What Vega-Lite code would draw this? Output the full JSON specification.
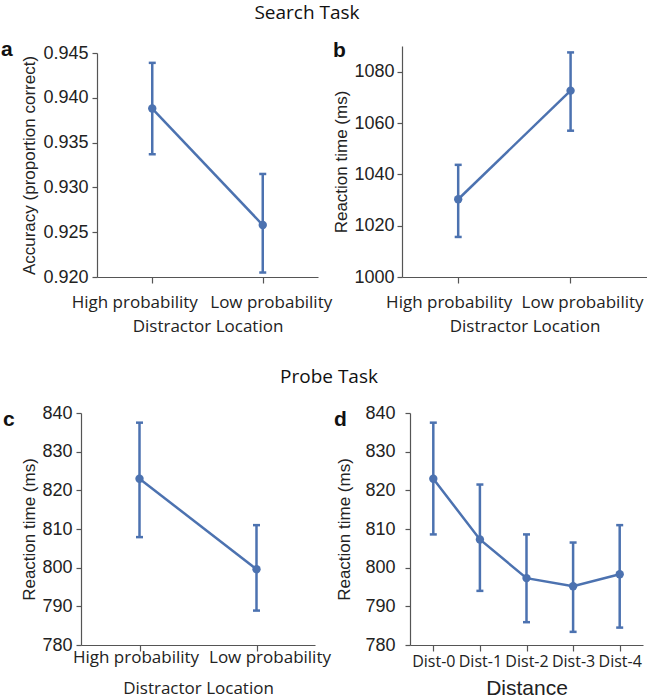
{
  "$schema": "https://vega.github.io/schema/vega-lite/v6.json",
  "padding": {"left": 0, "top": 4, "right": 0, "bottom": 0},
  "config": {
    "view": {"stroke": null},
    "axis": {"grid": false, "domainColor": "#555", "tickColor": "#555", "domainWidth": 1.2, "tickWidth": 1.2, "tickSize": 5, "labelColor": "#222", "titleColor": "#222", "titleFontWeight": "normal", "labelOverlap": false},
    "axisX": {"labelFont": "Open Sans", "labelFontSize": 17, "labelAngle": 0, "titleFont": "Open Sans", "titleFontSize": 17, "tickSize": 6},
    "axisY": {"labelFont": "Liberation Sans", "labelFontSize": 18, "titleFont": "Liberation Sans", "titleFontSize": 17, "labelPadding": 4, "titlePadding": 4},
    "tick": {"thickness": 2.5}
  },
  "concat": [
    {
      "title": {"text": "Search Task", "font": "Open Sans", "fontSize": 19, "fontWeight": "normal", "color": "#111", "anchor": "middle", "offset": 16, "dx": -17},
      "columns": 2,
      "align": "none",
      "spacing": 0,
      "concat": [
        {
          "width": 237, "height": 231,
          "title": {"text": "a", "anchor": "start", "frame": "bounds", "baseline": "alphabetic", "offset": 0, "dx": -20, "dy": 33, "font": "Liberation Sans", "fontWeight": "bold", "fontSize": 21, "color": "#111"},
          "data": {"values": [
            {"loc": "High probability", "mean": 0.9388, "lo": 0.9337, "hi": 0.9439},
            {"loc": "Low probability", "mean": 0.9258, "lo": 0.9205, "hi": 0.9315}
          ]},
          "encoding": {"x": {"field": "loc", "type": "nominal", "sort": null, "scale": {"type": "point", "padding": 0.5, "range": [16, 237]}, "axis": {"title": "Distractor Location", "labelPadding": 11, "titlePadding": 8, "labelOffset": {"condition": {"test": "datum.value == 'High probability'", "value": -18}, "value": 8}}}},
          "layer": [
            {"mark": {"type": "line", "color": "#4c72b0", "strokeWidth": 2.5},
             "encoding": {"y": {"field": "mean", "type": "quantitative", "scale": {"domain": [0.92, 0.945], "range": [231, 7], "nice": false, "zero": false}, "axis": {"title": "Accuracy (proportion correct)", "offset": -16, "values": [0.92, 0.925, 0.93, 0.935, 0.94, 0.945], "format": ".3f"}}}},
            {"mark": {"type": "rule", "color": "#4c72b0", "strokeWidth": 2.5},
             "encoding": {"y": {"field": "lo", "type": "quantitative", "axis": {"title": "Accuracy (proportion correct)", "offset": -16, "values": [0.92, 0.925, 0.93, 0.935, 0.94, 0.945], "format": ".3f"}}, "y2": {"field": "hi"}}},
            {"mark": {"type": "tick", "color": "#4c72b0", "size": 7, "opacity": 1},
             "encoding": {"y": {"field": "lo", "type": "quantitative", "axis": {"title": "Accuracy (proportion correct)", "offset": -16, "values": [0.92, 0.925, 0.93, 0.935, 0.94, 0.945], "format": ".3f"}}}},
            {"mark": {"type": "tick", "color": "#4c72b0", "size": 7, "opacity": 1},
             "encoding": {"y": {"field": "hi", "type": "quantitative", "axis": {"title": "Accuracy (proportion correct)", "offset": -16, "values": [0.92, 0.925, 0.93, 0.935, 0.94, 0.945], "format": ".3f"}}}},
            {"mark": {"type": "point", "filled": true, "size": 70, "opacity": 1, "color": "#4c72b0"},
             "encoding": {"y": {"field": "mean", "type": "quantitative", "axis": {"title": "Accuracy (proportion correct)", "offset": -16, "values": [0.92, 0.925, 0.93, 0.935, 0.94, 0.945], "format": ".3f"}}}}
          ]
        },
        {
          "width": 245, "height": 231,
          "title": {"text": "b", "anchor": "start", "frame": "bounds", "baseline": "alphabetic", "offset": 0, "dx": 0, "dy": 32, "font": "Liberation Sans", "fontWeight": "bold", "fontSize": 21, "color": "#111"},
          "data": {"values": [
            {"loc": "High probability", "mean": 1030.3, "lo": 1015.6, "hi": 1043.7},
            {"loc": "Low probability", "mean": 1072.6, "lo": 1057.0, "hi": 1087.5}
          ]},
          "encoding": {"x": {"field": "loc", "type": "nominal", "sort": null, "scale": {"type": "band", "paddingInner": 0, "paddingOuter": 0.09, "align": 0}, "axis": {"title": "Distractor Location", "labelPadding": 11, "titlePadding": 8, "labelOffset": {"condition": {"test": "datum.value == 'High probability'", "value": -9}, "value": 12}}}},
          "layer": [
            {"mark": {"type": "line", "color": "#4c72b0", "strokeWidth": 2.5},
             "encoding": {"y": {"field": "mean", "type": "quantitative", "scale": {"domain": [1000, 1090], "nice": false, "zero": false}, "axis": {"title": "Reaction time (ms)", "values": [1000, 1020, 1040, 1060, 1080], "format": "d", "labelPadding": 3, "titlePadding": 3}}}},
            {"mark": {"type": "rule", "color": "#4c72b0", "strokeWidth": 2.5},
             "encoding": {"y": {"field": "lo", "type": "quantitative", "axis": {"title": "Reaction time (ms)", "values": [1000, 1020, 1040, 1060, 1080], "format": "d", "labelPadding": 3, "titlePadding": 3}}, "y2": {"field": "hi"}}},
            {"mark": {"type": "tick", "color": "#4c72b0", "size": 7, "opacity": 1},
             "encoding": {"y": {"field": "lo", "type": "quantitative", "axis": {"title": "Reaction time (ms)", "values": [1000, 1020, 1040, 1060, 1080], "format": "d", "labelPadding": 3, "titlePadding": 3}}}},
            {"mark": {"type": "tick", "color": "#4c72b0", "size": 7, "opacity": 1},
             "encoding": {"y": {"field": "hi", "type": "quantitative", "axis": {"title": "Reaction time (ms)", "values": [1000, 1020, 1040, 1060, 1080], "format": "d", "labelPadding": 3, "titlePadding": 3}}}},
            {"mark": {"type": "point", "filled": true, "size": 70, "opacity": 1, "color": "#4c72b0"},
             "encoding": {"y": {"field": "mean", "type": "quantitative", "axis": {"title": "Reaction time (ms)", "values": [1000, 1020, 1040, 1060, 1080], "format": "d", "labelPadding": 3, "titlePadding": 3}}}}
          ]
        }
      ]
    },
    {
      "title": {"text": "Probe Task", "font": "Open Sans", "fontSize": 19, "fontWeight": "normal", "color": "#111", "anchor": "middle", "offset": 17, "dx": 6},
      "columns": 2,
      "align": "none",
      "spacing": 2,
      "concat": [
        {
          "width": 234, "height": 232,
          "title": {"text": "c", "anchor": "start", "frame": "bounds", "baseline": "alphabetic", "offset": 0, "dx": -18, "dy": 43, "font": "Liberation Sans", "fontWeight": "bold", "fontSize": 21, "color": "#111"},
          "data": {"values": [
            {"loc": "High probability", "mean": 823.0, "lo": 807.9, "hi": 837.5},
            {"loc": "Low probability", "mean": 799.6, "lo": 788.9, "hi": 811.0}
          ]},
          "encoding": {"x": {"field": "loc", "type": "nominal", "sort": null, "scale": {"type": "point", "padding": 0.5}, "axis": {"title": "Distractor Location", "labelPadding": -2, "titlePadding": 15, "labelOffset": {"condition": {"test": "datum.value == 'High probability'", "value": -4}, "value": 13}}}},
          "layer": [
            {"mark": {"type": "line", "color": "#4c72b0", "strokeWidth": 2.5},
             "encoding": {"y": {"field": "mean", "type": "quantitative", "scale": {"domain": [780, 840], "nice": false, "zero": false}, "axis": {"title": "Reaction time (ms)", "values": [780, 790, 800, 810, 820, 830, 840], "titlePadding": 3}}}},
            {"mark": {"type": "rule", "color": "#4c72b0", "strokeWidth": 2.5},
             "encoding": {"y": {"field": "lo", "type": "quantitative", "axis": {"title": "Reaction time (ms)", "values": [780, 790, 800, 810, 820, 830, 840], "titlePadding": 3}}, "y2": {"field": "hi"}}},
            {"mark": {"type": "tick", "color": "#4c72b0", "size": 7, "opacity": 1},
             "encoding": {"y": {"field": "lo", "type": "quantitative", "axis": {"title": "Reaction time (ms)", "values": [780, 790, 800, 810, 820, 830, 840], "titlePadding": 3}}}},
            {"mark": {"type": "tick", "color": "#4c72b0", "size": 7, "opacity": 1},
             "encoding": {"y": {"field": "hi", "type": "quantitative", "axis": {"title": "Reaction time (ms)", "values": [780, 790, 800, 810, 820, 830, 840], "titlePadding": 3}}}},
            {"mark": {"type": "point", "filled": true, "size": 70, "opacity": 1, "color": "#4c72b0"},
             "encoding": {"y": {"field": "mean", "type": "quantitative", "axis": {"title": "Reaction time (ms)", "values": [780, 790, 800, 810, 820, 830, 840], "titlePadding": 3}}}}
          ]
        },
        {
          "width": 233, "height": 232,
          "title": {"text": "d", "anchor": "start", "frame": "bounds", "baseline": "alphabetic", "offset": 0, "dx": -2, "dy": 43, "font": "Liberation Sans", "fontWeight": "bold", "fontSize": 21, "color": "#111"},
          "data": {"values": [
            {"dist": "Dist-0", "mean": 823.0, "lo": 808.6, "hi": 837.5},
            {"dist": "Dist-1", "mean": 807.3, "lo": 794.0, "hi": 821.5},
            {"dist": "Dist-2", "mean": 797.3, "lo": 785.9, "hi": 808.6},
            {"dist": "Dist-3", "mean": 795.2, "lo": 783.4, "hi": 806.5},
            {"dist": "Dist-4", "mean": 798.3, "lo": 784.5, "hi": 811.0}
          ]},
          "encoding": {"x": {"field": "dist", "type": "nominal", "sort": null, "scale": {"type": "point", "padding": 0.5}, "axis": {"title": "Distance", "labelFontSize": 16, "titleFont": "Liberation Sans", "titleFontSize": 21, "labelPadding": 2, "titlePadding": 8}}},
          "layer": [
            {"mark": {"type": "line", "color": "#4c72b0", "strokeWidth": 2.5},
             "encoding": {"y": {"field": "mean", "type": "quantitative", "scale": {"domain": [780, 840], "nice": false, "zero": false}, "axis": {"title": "Reaction time (ms)", "values": [780, 790, 800, 810, 820, 830, 840], "labelPadding": 10, "titlePadding": 11}}}},
            {"mark": {"type": "rule", "color": "#4c72b0", "strokeWidth": 2.5},
             "encoding": {"y": {"field": "lo", "type": "quantitative", "axis": {"title": "Reaction time (ms)", "values": [780, 790, 800, 810, 820, 830, 840], "labelPadding": 10, "titlePadding": 11}}, "y2": {"field": "hi"}}},
            {"mark": {"type": "tick", "color": "#4c72b0", "size": 7, "opacity": 1},
             "encoding": {"y": {"field": "lo", "type": "quantitative", "axis": {"title": "Reaction time (ms)", "values": [780, 790, 800, 810, 820, 830, 840], "labelPadding": 10, "titlePadding": 11}}}},
            {"mark": {"type": "tick", "color": "#4c72b0", "size": 7, "opacity": 1},
             "encoding": {"y": {"field": "hi", "type": "quantitative", "axis": {"title": "Reaction time (ms)", "values": [780, 790, 800, 810, 820, 830, 840], "labelPadding": 10, "titlePadding": 11}}}},
            {"mark": {"type": "point", "filled": true, "size": 70, "opacity": 1, "color": "#4c72b0"},
             "encoding": {"y": {"field": "mean", "type": "quantitative", "axis": {"title": "Reaction time (ms)", "values": [780, 790, 800, 810, 820, 830, 840], "labelPadding": 10, "titlePadding": 11}}}}
          ]
        }
      ]
    }
  ],
  "columns": 1,
  "align": "none",
  "spacing": 34
}
